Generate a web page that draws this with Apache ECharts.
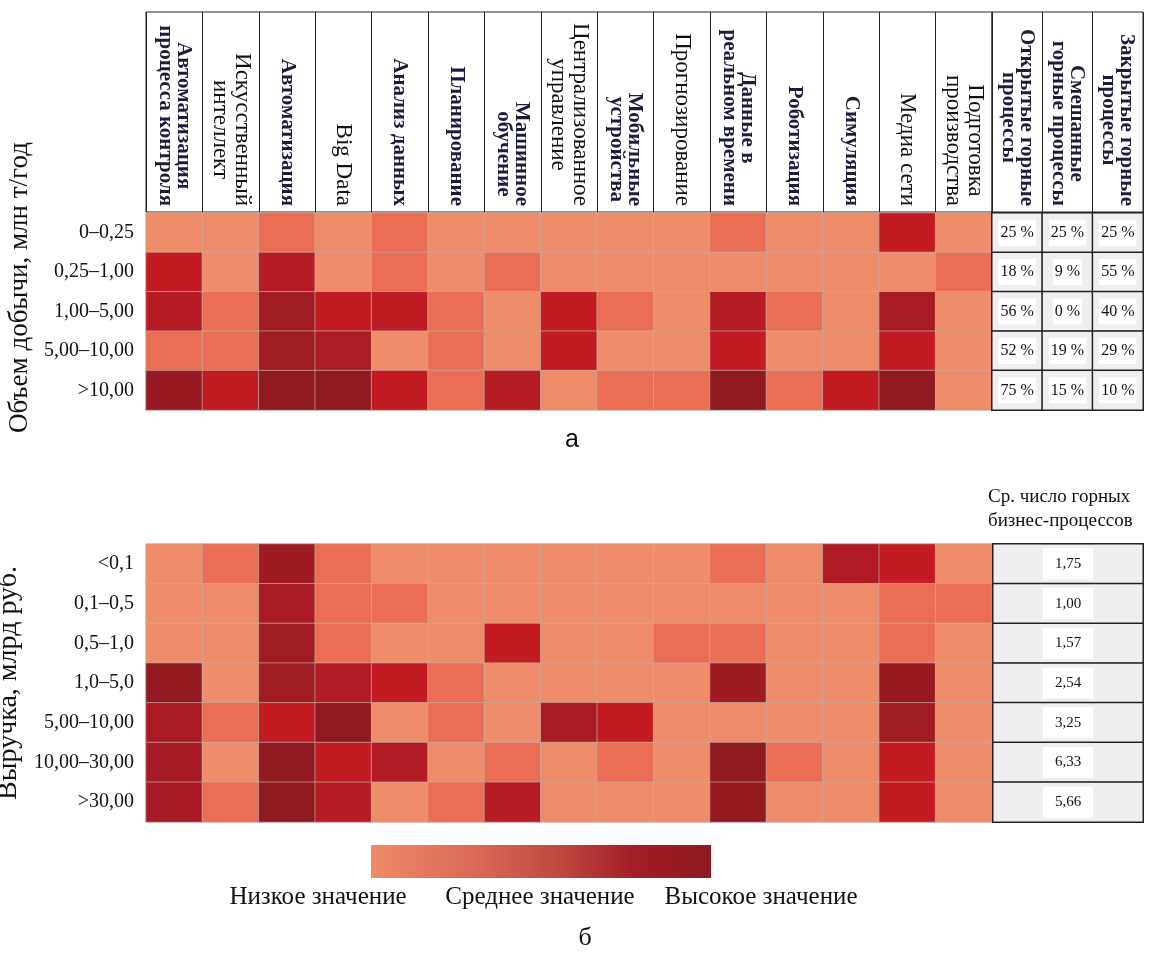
<!DOCTYPE html>
<html>
<head>
<meta charset="utf-8">
<script src="https://cdn.jsdelivr.net/npm/echarts@6/dist/echarts.min.js"></script>
<style>
html,body{margin:0;padding:0;background:#fff;}
#chart{width:1168px;height:956px;}
</style>
</head>
<body>
<div id="chart"></div>
<script>
// ---- Data ----
const technologies = [
  'Автоматизация\nпроцесса контроля',
  'Искусственный\nинтеллект',
  'Автоматизация',
  'Big Data',
  'Анализ данных',
  'Планирование',
  'Машинное\nобучение',
  'Централизованное\nуправление',
  'Мобильные\nустройства',
  'Прогнозирование',
  'Данные в\nреальном времени',
  'Роботизация',
  'Симуляция',
  'Медиа сети',
  'Подготовка\nпроизводства'
];
const processTypes = ['Открытые горные\nпроцессы', 'Смешанные\nгорные процессы', 'Закрытые горные\nпроцессы'];
const volumeRows = ['0–0,25', '0,25–1,00', '1,00–5,00', '5,00–10,00', '>10,00'];
const revenueRows = ['<0,1', '0,1–0,5', '0,5–1,0', '1,0–5,0', '5,00–10,00', '10,00–30,00', '>30,00'];

// intensity level 1 (low) .. 5 (high)
const volumeLevels = [
  [1, 1, 2, 1, 2, 1, 1, 1, 1, 1, 2, 1, 1, 3, 1],
  [3, 1, 3.5, 1, 2, 1, 2, 1, 1, 1, 1, 1, 1, 1, 2],
  [3.5, 2, 4.3, 3, 3.2, 2, 1, 3, 2, 1, 3.5, 2, 1, 4, 1],
  [2, 2, 4.3, 3.8, 1, 2, 1, 3, 1, 1, 3, 1, 1, 3, 1],
  [4.7, 3, 5, 5, 3, 2, 3.5, 1, 2, 2, 5, 2, 3, 5, 1]
];
const revenueLevels = [
  [1, 2, 4.4, 2, 1, 1, 1, 1, 1, 1, 2, 1, 3.7, 3, 1],
  [1, 1, 4, 2, 2, 1, 1, 1, 1, 1, 1, 1, 1, 2, 2],
  [1, 1, 4.3, 2, 1, 1, 3, 1, 1, 2, 2, 1, 1, 2, 1],
  [4.8, 1, 4.3, 3.6, 3, 2, 1, 1, 1, 1, 4.4, 1, 1, 4.7, 1],
  [4, 2, 3, 5, 1, 2, 1, 4, 3, 1, 1, 1, 1, 4.3, 1],
  [4.1, 1, 5, 3, 3.6, 1, 2, 1, 2, 1, 5, 2, 1, 3, 1],
  [4.1, 2, 5, 3.5, 1, 2, 3.5, 1, 1, 1, 4.8, 1, 1, 3, 1]
];
const openShare = [25, 18, 56, 52, 75];
const mixedShare = [25, 9, 0, 19, 15];
const closedShare = [25, 55, 40, 29, 10];
const avgProcesses = [1.75, 1.00, 1.57, 2.54, 3.25, 6.33, 5.66];
const avgHeader = 'Ср. число горных\nбизнес-процессов';

// ---- styles ----
const headerStyle = ['b', 'n', 'b', 'n', 'b', 'b', 'b', 'n', 'b', 'n', 'b', 'b', 'b', 'n', 'n'];

// ---- Build series data ----
function matrix(levels) {
  const out = [];
  levels.forEach((row, y) => row.forEach((v, x) => out.push([x, y, v])));
  return out;
}
const topHeat = matrix(volumeLevels);
const bottomHeat = matrix(revenueLevels);
const shareTable = [];
[openShare, mixedShare, closedShare].forEach((col, x) => col.forEach((v, y) => shareTable.push([x, y, v])));
const avgTable = avgProcesses.map((v, y) => [0, y, v]);

const SERIF = '"Liberation Serif", "Times New Roman", serif';
const L = 146, HW = 846, TL = 992, TW = 151;

const gridBase = { outerBoundsMode: 'none', containLabel: false };
const hiddenValueY = (g) => ({ type: 'value', gridIndex: g, min: 0, max: 1, show: false });
const headerX = (g, data) => ({
  type: 'category', gridIndex: g, data: data, position: 'bottom',
  axisLine: { show: false }, axisTick: { show: false }, axisLabel: { show: false, interval: 0 },
  splitLine: { show: true, interval: 0, lineStyle: { color: '#222', width: 1 } }
});
const richHeader = {
  b: { fontFamily: SERIF, fontWeight: 'bold', fontSize: 21, lineHeight: 18, color: '#1c1c3c', align: 'center' },
  n: { fontFamily: SERIF, fontSize: 23, lineHeight: 22, color: '#111', align: 'center' }
};

const option = {
  backgroundColor: '#ffffff',
  animation: false,
  grid: [
    Object.assign({ left: L, top: 12, width: HW, height: 200, show: true, borderColor: '#222', borderWidth: 1, backgroundColor: 'transparent' }, gridBase),
    Object.assign({ left: L, top: 213, width: HW, height: 197 }, gridBase),
    Object.assign({ left: TL, top: 12, width: TW, height: 200, show: true, borderColor: '#222', borderWidth: 1, backgroundColor: 'transparent' }, gridBase),
    Object.assign({ left: TL, top: 213, width: TW, height: 197 }, gridBase),
    Object.assign({ left: L, top: 544, width: HW, height: 278 }, gridBase),
    Object.assign({ left: TL + 1, top: 544, width: TW - 1, height: 278 }, gridBase)
  ],
  xAxis: [
    headerX(0, technologies),
    {
      type: 'category', gridIndex: 1, data: technologies, position: 'top',
      axisLine: { show: false }, axisTick: { show: false }, splitLine: { show: false },
      axisLabel: {
        rotate: 90, margin: 7, interval: 0, rich: richHeader,
        formatter: (v, i) => '{' + headerStyle[i] + '|' + v + '}'
      }
    },
    headerX(2, processTypes),
    {
      type: 'category', gridIndex: 3, data: processTypes, position: 'top',
      axisLine: { show: false }, axisTick: { show: false }, splitLine: { show: false },
      axisLabel: {
        rotate: 90, margin: 7, interval: 0, rich: richHeader,
        formatter: (v) => '{b|' + v + '}'
      }
    },
    { type: 'category', gridIndex: 4, data: technologies, show: false },
    { type: 'category', gridIndex: 5, data: [avgHeader], show: false }
  ],
  yAxis: [
    hiddenValueY(0),
    {
      type: 'category', gridIndex: 1, data: volumeRows, inverse: true,
      axisLine: { show: false }, axisTick: { show: false },
      axisLabel: { fontFamily: SERIF, fontSize: 20, color: '#111', margin: 12 },
      name: 'Объем добычи, млн т/год', nameLocation: 'middle', nameRotate: 90, nameGap: 107,
      nameTextStyle: { fontFamily: SERIF, fontSize: 27, color: '#111', padding: [0, 0, 0, 48] }
    },
    hiddenValueY(2),
    { type: 'category', gridIndex: 3, data: volumeRows, inverse: true, show: false },
    {
      type: 'category', gridIndex: 4, data: revenueRows, inverse: true,
      axisLine: { show: false }, axisTick: { show: false },
      axisLabel: { fontFamily: SERIF, fontSize: 20, color: '#111', margin: 12 },
      name: 'Выручка, млрд руб.', nameLocation: 'middle', nameRotate: 90, nameGap: 106,
      nameTextStyle: { fontFamily: SERIF, fontSize: 28, color: '#111' }
    },
    { type: 'category', gridIndex: 5, data: revenueRows, inverse: true, show: false }
  ],
  visualMap: {
    type: 'continuous', show: false, min: 1, max: 5, seriesIndex: [0, 2], dimension: 2,
    inRange: { color: ['#EF8D6A', '#EA6E54', '#C21C22', '#A81B23', '#8F1A22'] }
  },
  graphic: [
    {
      type: 'rect', left: 371, top: 845, shape: { width: 340, height: 33 },
      style: {
        fill: {
          type: 'linear', x: 0, y: 0, x2: 1, y2: 0,
          colorStops: [
            { offset: 0, color: '#F08A68' },
            { offset: 0.3, color: '#DA6A56' },
            { offset: 0.55, color: '#BF4A40' },
            { offset: 0.78, color: '#A21C25' },
            { offset: 1, color: '#8E1A21' }
          ]
        }
      }
    },
    { type: 'text', x: 318, y: 897, style: { text: 'Низкое значение', font: '25px ' + SERIF, fill: '#111', textAlign: 'center', textVerticalAlign: 'middle' } },
    { type: 'text', x: 540, y: 897, style: { text: 'Среднее значение', font: '25px ' + SERIF, fill: '#111', textAlign: 'center', textVerticalAlign: 'middle' } },
    { type: 'text', x: 761, y: 897, style: { text: 'Высокое значение', font: '25px ' + SERIF, fill: '#111', textAlign: 'center', textVerticalAlign: 'middle' } },
    { type: 'text', x: 572, y: 440, style: { text: 'а', font: '25px "Liberation Sans", Arial, sans-serif', fill: '#111', textAlign: 'center', textVerticalAlign: 'middle' } },
    { type: 'text', x: 585, y: 938, style: { text: 'б', font: '26px ' + SERIF, fill: '#111', textAlign: 'center', textVerticalAlign: 'middle' } },
    { type: 'text', left: 988, top: 485, style: { text: avgHeader, font: '19px ' + SERIF, fill: '#111', lineHeight: 24 } }
  ],
  series: [
    {
      type: 'heatmap', xAxisIndex: 1, yAxisIndex: 1, data: topHeat,
      itemStyle: { borderColor: 'rgba(200,170,160,0.7)', borderWidth: 1 },
      emphasis: { disabled: true }
    },
    {
      type: 'heatmap', xAxisIndex: 3, yAxisIndex: 3, data: shareTable,
      itemStyle: { color: '#efefef', borderColor: '#222', borderWidth: 1.5 },
      label: {
        show: true, formatter: (p) => p.value[2] + ' %',
        fontFamily: SERIF, fontSize: 16, color: '#111', backgroundColor: '#fff', padding: [5, 2]
      },
      emphasis: { disabled: true }
    },
    {
      type: 'heatmap', xAxisIndex: 4, yAxisIndex: 4, data: bottomHeat,
      itemStyle: { borderColor: 'rgba(200,170,160,0.7)', borderWidth: 1 },
      emphasis: { disabled: true }
    },
    {
      type: 'heatmap', xAxisIndex: 5, yAxisIndex: 5, data: avgTable,
      itemStyle: { color: '#efefef', borderColor: '#222', borderWidth: 1.5 },
      label: {
        show: true, formatter: (p) => p.value[2].toFixed(2).replace('.', ','),
        fontFamily: SERIF, fontSize: 15, color: '#111', backgroundColor: '#fff', padding: [8, 12]
      },
      emphasis: { disabled: true }
    }
  ]
};

const chart = echarts.init(document.getElementById('chart'), null, { renderer: 'canvas' });
chart.setOption(option);
</script>
</body>
</html>
